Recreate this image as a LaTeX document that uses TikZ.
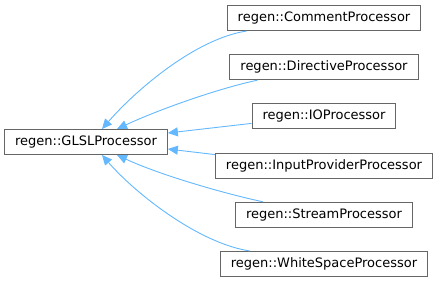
\documentclass[tikz,border=0pt]{standalone}
\usepackage{fontspec}
\setmainfont{DejaVu Sans}
\usetikzlibrary{arrows.meta, positioning}

\definecolor{edgeblue}{HTML}{63B8FF}
\definecolor{boxgray}{HTML}{666666}

\begin{document}
\begin{tikzpicture}[
x=1pt, y=-1pt,
node distance=23.2pt,
font=\fontsize{13}{15}\selectfont,
% class boxes and inheritance edges
classbox/.style = {rectangle, draw=boxgray, fill=white, line width=1pt, minimum height=25pt, inner xsep=10.5pt, inner ysep=0pt, text centered},
inherit/.style = {edgeblue, line width=0.9pt, {Triangle[length=10pt, width=9pt]}-}
]
\useasboundingbox (0,0) rectangle (439,283);

% Nodes
\node (glsl) [classbox] at (86,142) {regen::GLSLProcessor};

\node (comment) [classbox] at (324,18) {regen::CommentProcessor};
\node (directive) [classbox, below=of comment] {regen::DirectiveProcessor};
\node (io) [classbox, below=of directive] {regen::IOProcessor};
\node (input) [classbox, below=of io] {regen::InputProviderProcessor};
\node (stream) [classbox, below=of input] {regen::StreamProcessor};
\node (white) [classbox, below=of stream] {regen::WhiteSpaceProcessor};

% Edges
\draw [inherit] ([xshift=16pt]glsl.north) .. controls +(33,-38) and +(-52,8) .. ([xshift=20pt]comment.south west);
\draw [inherit] ([xshift=31pt]glsl.north) .. controls +(43,-20) and +(-38,8) .. ([xshift=28pt]directive.south west);
\draw [inherit] ([yshift=9pt]glsl.east) -- ([yshift=-7pt]io.west);
\draw [inherit] ([yshift=-7pt]glsl.east) -- ([yshift=11pt]input.west);
\draw [inherit] ([xshift=31pt]glsl.south) .. controls +(43,20) and +(-38,-8) .. ([xshift=28pt]stream.north west);
\draw [inherit] ([xshift=16pt]glsl.south) .. controls +(33,38) and +(-52,-8) .. ([xshift=30pt]white.north west);
\end{tikzpicture}
\end{document}
